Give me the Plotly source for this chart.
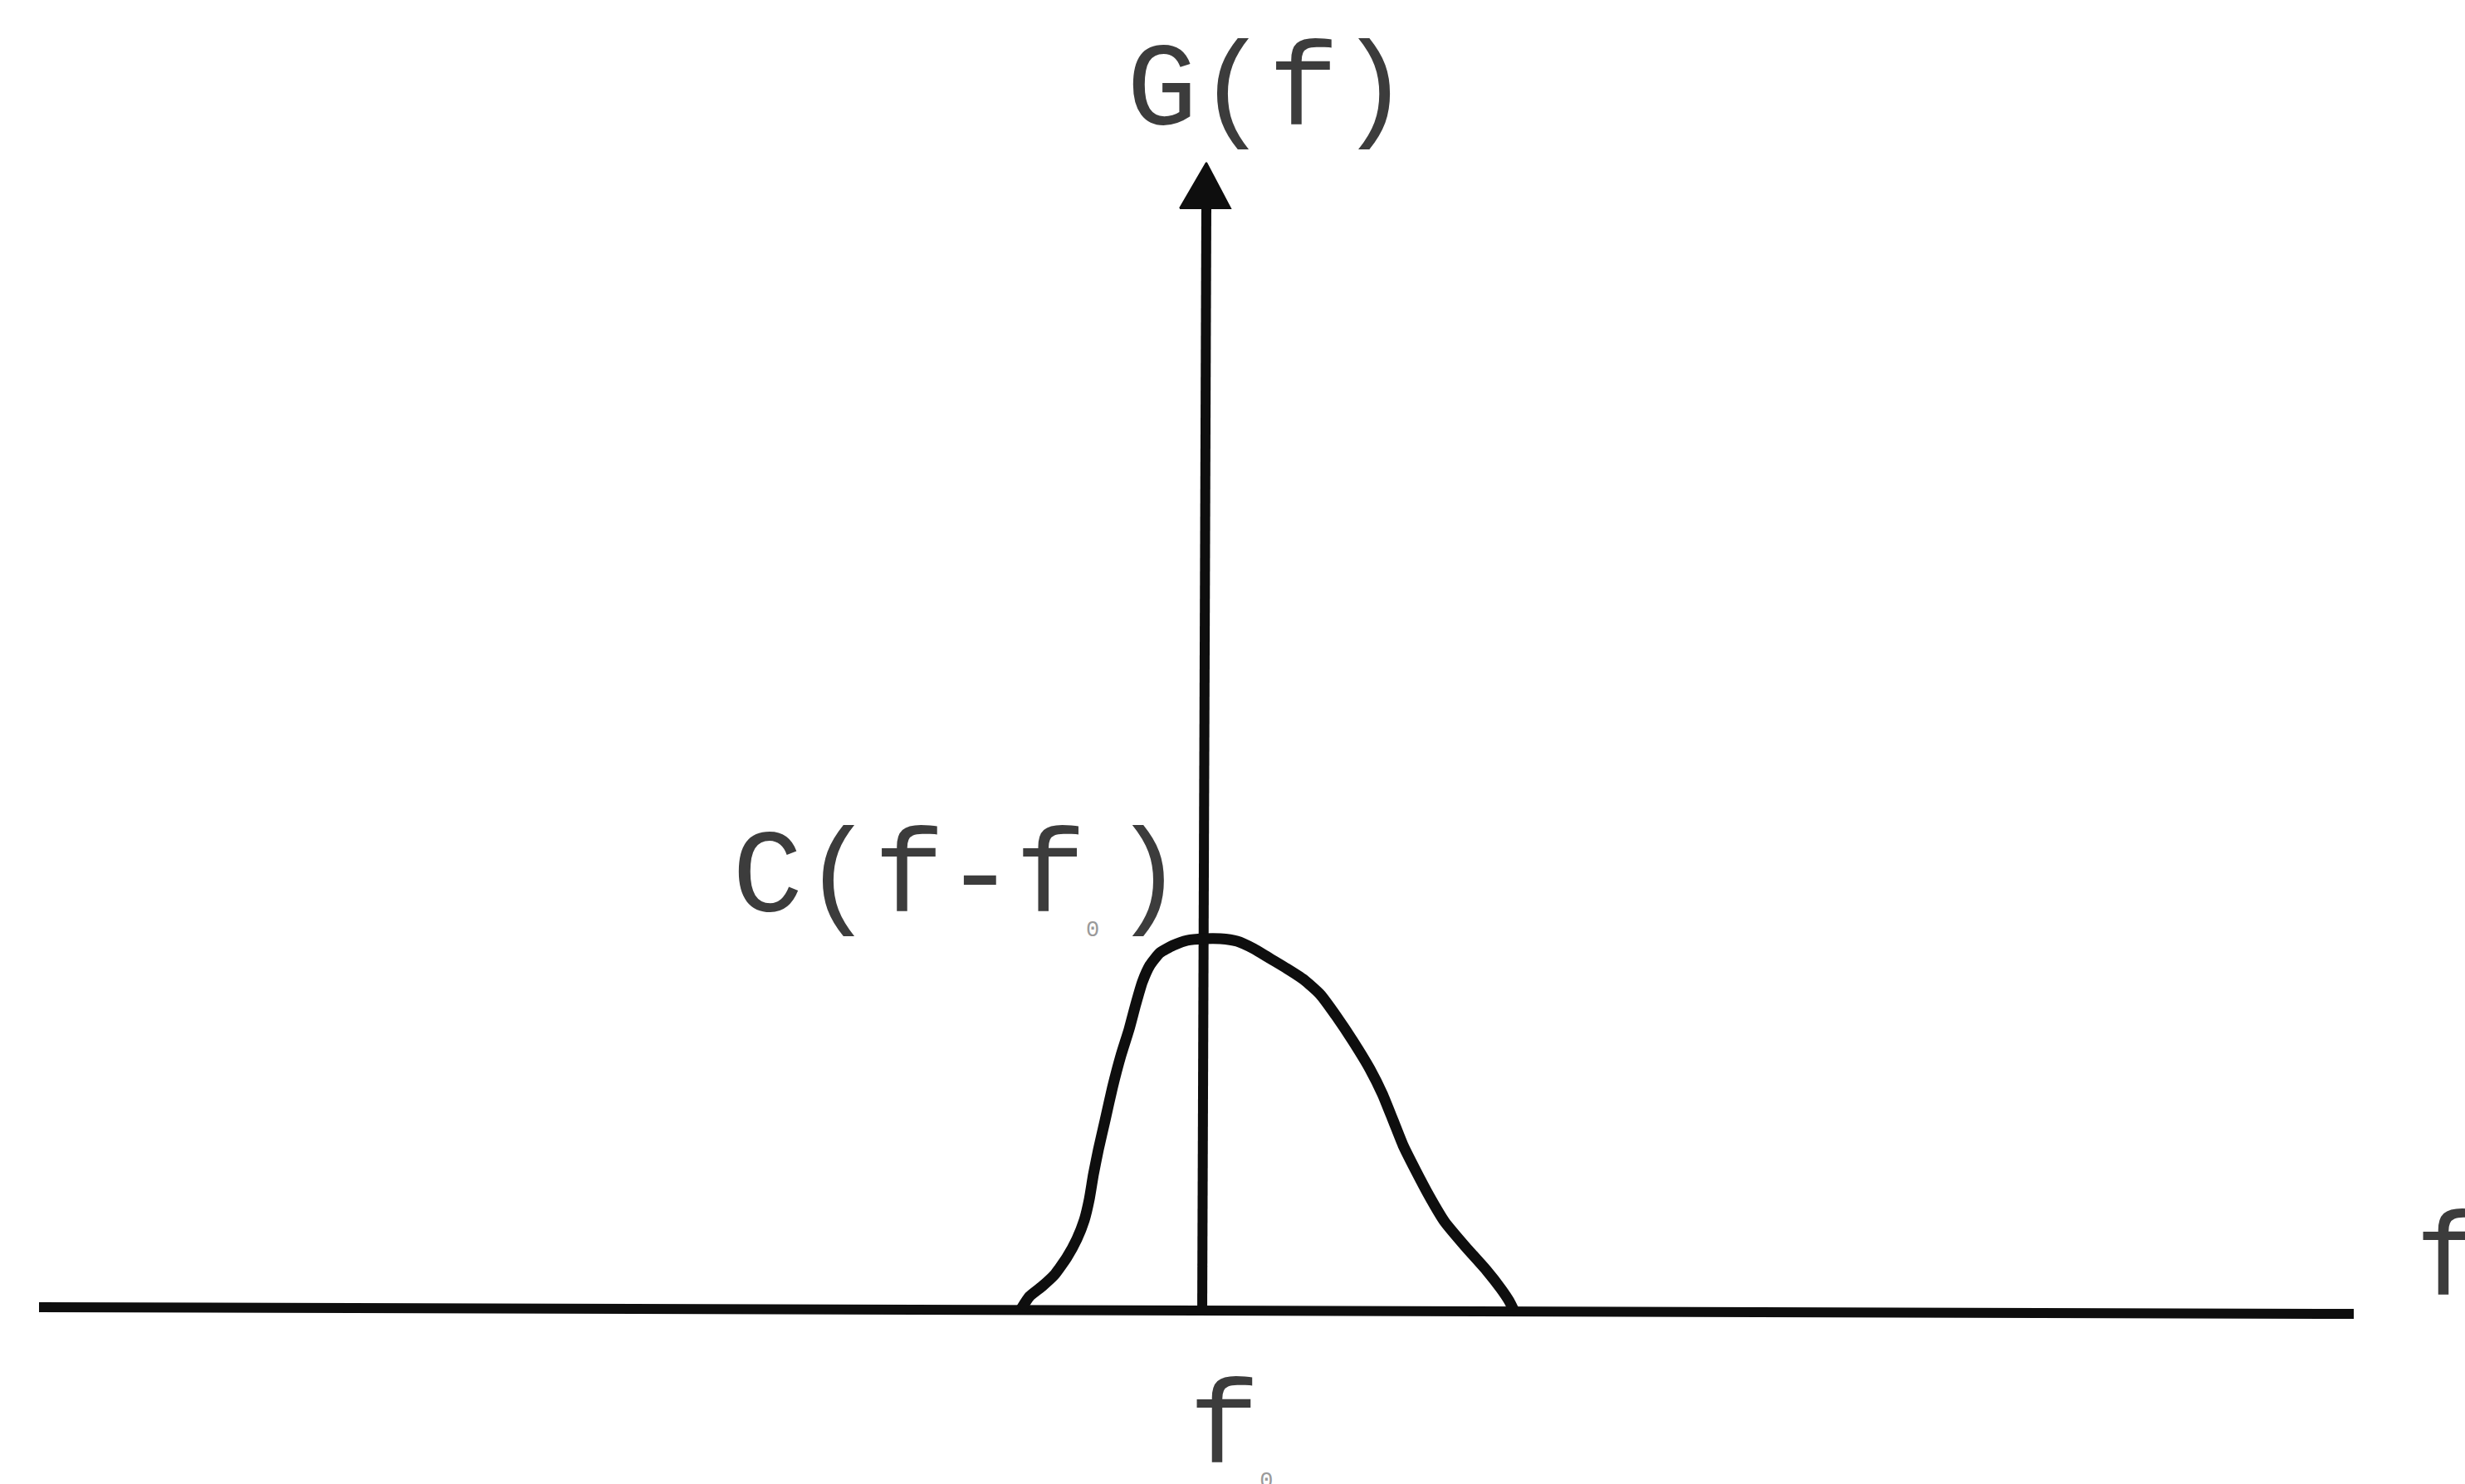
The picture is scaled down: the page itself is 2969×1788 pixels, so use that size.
import plotly.graph_objects as go

# Spectrum C(f - f0): frequency offset from f0 and amplitude (arbitrary units)
freq_offset = [-2.20, -2.10, -1.95, -1.80, -1.65, -1.53, -1.44, -1.38, -1.33, -1.27,
               -1.19, -1.10, -1.00, -0.90, -0.82, -0.74, -0.65, -0.53, -0.37, -0.20,
               0.00, 0.20, 0.40, 0.60, 0.80, 1.00, 1.20, 1.40, 1.60, 1.80,
               2.00, 2.15, 2.28, 2.40, 2.55, 2.72, 2.90, 3.15, 3.40, 3.58,
               3.68, 3.73]
amplitude = [0.01, 0.16, 0.28, 0.42, 0.63, 0.85, 1.08, 1.33, 1.63, 1.93,
             2.28, 2.68, 3.06, 3.38, 3.68, 3.95, 4.15, 4.30, 4.39, 4.45,
             4.47, 4.47, 4.44, 4.35, 4.23, 4.11, 3.98, 3.80, 3.53, 3.23,
             2.90, 2.60, 2.28, 1.98, 1.68, 1.36, 1.06, 0.76, 0.48, 0.25,
             0.10, 0.00]

# Axis extents
f_axis_x = [-14.03, 13.85]
f_axis_y = [0.03, -0.05]
g_axis_x = [-0.02, 0.03]
g_axis_y = [-0.07, 13.30]
arrow_x = [-0.29, 0.03, 0.32, -0.29]
arrow_y = [13.27, 13.82, 13.27, 13.27]

INK = "#0e0e0e"
TEXT = "#3c3c3c"
FONT = "Liberation Mono, Courier New, monospace"
SUB = "<sub><span style='font-size:27px;color:#9a9a9a'>0 </span></sub>"

fig = go.Figure()

fig.add_trace(go.Scatter(x=f_axis_x, y=f_axis_y, mode="lines",
                         line=dict(color=INK, width=12), hoverinfo="skip"))
fig.add_trace(go.Scatter(x=g_axis_x, y=g_axis_y, mode="lines",
                         line=dict(color=INK, width=12), hoverinfo="skip"))
fig.add_trace(go.Scatter(x=arrow_x, y=arrow_y, mode="lines", fill="toself",
                         fillcolor=INK, line=dict(color=INK, width=2), hoverinfo="skip"))
fig.add_trace(go.Scatter(x=freq_offset, y=amplitude, mode="lines",
                         line=dict(color=INK, width=13, shape="spline", smoothing=0.5),
                         hoverinfo="skip"))

labels = [
    dict(text="G(f)", x=0.77, y=14.66, xanchor="center"),
    dict(text="C(f-f" + SUB + ")", x=-5.70, y=5.18, xanchor="left"),
    dict(text="f" + SUB, x=-0.20, y=-1.46, xanchor="left"),
    dict(text="f", x=14.57, y=0.56, xanchor="left"),
]
for lab in labels:
    fig.add_annotation(text=lab["text"], x=lab["x"], y=lab["y"], xref="x", yref="y",
                       xanchor=lab["xanchor"], yanchor="middle", showarrow=False,
                       font=dict(family=FONT, size=142, color=TEXT))

fig.update_layout(
    width=2969, height=1788,
    margin=dict(l=0, r=0, t=0, b=0),
    paper_bgcolor="white", plot_bgcolor="white",
    showlegend=False,
    xaxis=dict(range=[-14.5, 15.19], visible=False, fixedrange=True),
    yaxis=dict(range=[-2.10, 15.78], visible=False, fixedrange=True),
)

fig.write_html("out.html")
